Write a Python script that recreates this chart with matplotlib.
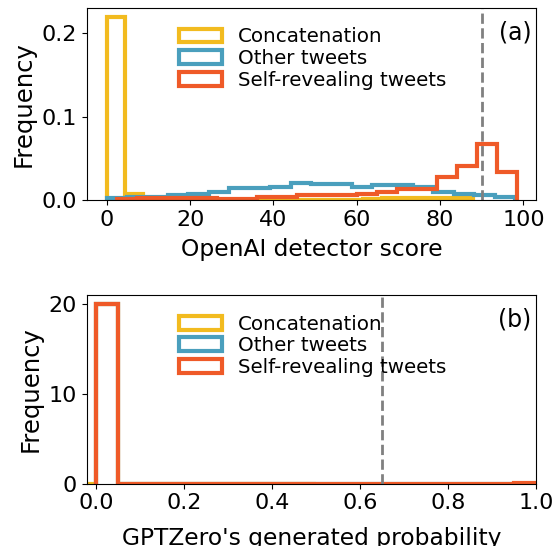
import numpy as np
import matplotlib
matplotlib.use('Agg')
import matplotlib.pyplot as plt

# (a) OpenAI detector score histograms (density per bin)
concat_edges_a = np.linspace(0, 88, 21)
concat_a = [0.22, 0.0072, 0.0004, 0.0004, 0.0004, 0.0004, 0.0004, 0.0004, 0.0004, 0.0004,
            0.0004, 0.0004, 0.0004, 0.0004, 0.0008, 0.002, 0.002, 0.002, 0.002, 0.002]
other_edges_a = np.linspace(0, 98, 21)
other_a = [0.002, 0.004, 0.004, 0.0056, 0.0072, 0.0096, 0.0137, 0.0137, 0.016, 0.020,
           0.0193, 0.0193, 0.016, 0.0177, 0.0177, 0.0153, 0.0090, 0.0068, 0.0056, 0.0036]
self_edges_a = np.linspace(2.4, 98.4, 21)
self_a = [0.001, 0.002, 0.002, 0.002, 0.002, 0.0015, 0.0015, 0.003, 0.0038, 0.0056,
          0.006, 0.006, 0.0072, 0.0092, 0.0128, 0.0128, 0.027, 0.041, 0.0675, 0.033]

# (b) GPTZero generated probability histograms
concat_edges_b = np.linspace(-0.5, 0.5, 21)
concat_b = [0] * 10 + [20] + [0] * 9
other_edges_b = np.linspace(0, 1, 21)
other_b = [20] + [0] * 19
self_edges_b = np.linspace(0, 1, 21)
self_b = [20] + [0] * 18 + [0.1]

labels = ['Concatenation', 'Other tweets', 'Self-revealing tweets']
colors = ['#F2BB1F', '#4A9FBD', '#EF5A28']

fig = plt.figure(figsize=(5.56, 5.46), dpi=100)
ax1 = fig.add_axes([0.156, 0.634, 0.808, 0.352])
ax2 = fig.add_axes([0.156, 0.114, 0.808, 0.346])

series_a = [(concat_edges_a, concat_a), (other_edges_a, other_a), (self_edges_a, self_a)]
series_b = [(concat_edges_b, concat_b), (other_edges_b, other_b), (self_edges_b, self_b)]

for ax, series in [(ax1, series_a), (ax2, series_b)]:
    for (edges, h), lab, c in zip(series, labels, colors):
        ax.hist(edges[:-1], bins=edges, weights=h, histtype='step',
                linewidth=3, color=c, label=lab)
    ax.legend(loc='upper left', bbox_to_anchor=(0.165, 0.99), frameon=False,
              fontsize=14.3, labelspacing=0.13, handlelength=2.2)
    ax.tick_params(labelsize=16)
    ax.set_ylabel('Frequency', fontsize=17.5)

ax1.axvline(90, color='gray', linestyle='--', linewidth=2)
ax1.set_xlim(-4.8, 103)
ax1.set_ylim(0, 0.231)
ax1.set_xlabel('OpenAI detector score', fontsize=16.8, labelpad=6)
ax1.text(0.99, 0.87, '(a)', transform=ax1.transAxes, ha='right', va='center', fontsize=17)

ax2.axvline(0.65, color='gray', linestyle='--', linewidth=2)
ax2.set_xlim(-0.021, 1.0)
ax2.set_ylim(0, 21)
ax2.set_xlabel("GPTZero's generated probability", fontsize=16.8, labelpad=10)
ax2.text(0.99, 0.87, '(b)', transform=ax2.transAxes, ha='right', va='center', fontsize=17)

plt.savefig('out.png', dpi=100)
